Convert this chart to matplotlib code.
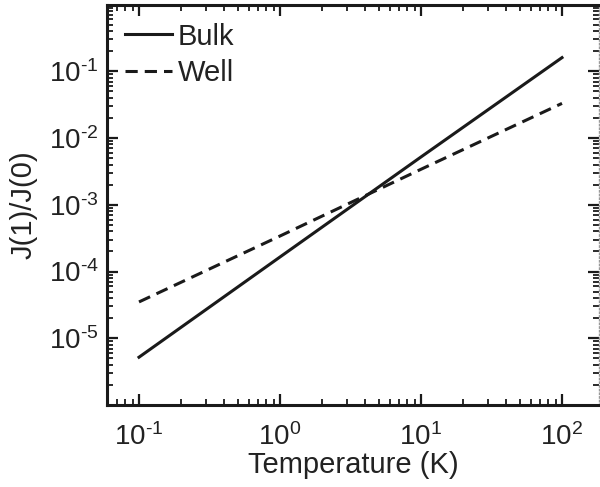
import matplotlib
matplotlib.use("Agg")
import matplotlib.pyplot as plt
import numpy as np
from matplotlib.ticker import LogLocator, NullFormatter

plt.rcParams['font.family'] = ['Liberation Sans', 'DejaVu Sans']
plt.rcParams['mathtext.fontset'] = 'custom'
plt.rcParams['mathtext.rm'] = 'Liberation Sans'
plt.rcParams['mathtext.it'] = 'Liberation Sans:italic'
plt.rcParams['mathtext.default'] = 'regular'

# Data
temperature = [0.1, 1.0, 10.0, 100.0]
bulk = [5.2e-6, 1.65e-4, 5.2e-3, 0.16]
well = [3.5e-5, 3.4e-4, 3.4e-3, 0.033]
series_labels = ["Bulk", "Well"]
xtick_vals = [0.1, 1, 10, 100]
xtick_labels = [r'$10^{\text{-}1}$', r'$10^{0}$', r'$10^{1}$', r'$10^{2}$']
ytick_vals = [1e-5, 1e-4, 1e-3, 1e-2, 1e-1]
ytick_labels = [r'$10^{\text{-}5}$', r'$10^{\text{-}4}$', r'$10^{\text{-}3}$',
                r'$10^{\text{-}2}$', r'$10^{\text{-}1}$']

fig = plt.figure(figsize=(6.0, 4.87), dpi=100)
ax = fig.add_axes([107/600, 1 - 405/487, 492/600, (405 - 4.5)/487])

ax.plot(temperature, bulk, color='#1a1a1a', lw=2.2, ls='-', label=series_labels[0])
ax.plot(temperature, well, color='#1a1a1a', lw=2.2, ls=(0, (4.0, 2.3)), label=series_labels[1])

ax.set_xscale('log')
ax.set_yscale('log')

ax.xaxis.set_minor_locator(LogLocator(base=10, subs=np.arange(2, 10), numticks=20))
ax.yaxis.set_minor_locator(LogLocator(base=10, subs=np.arange(2, 10), numticks=20))
ax.xaxis.set_minor_formatter(NullFormatter())
ax.yaxis.set_minor_formatter(NullFormatter())
ax.set_xticks(xtick_vals)
ax.set_yticks(ytick_vals)
ax.set_xticklabels(xtick_labels)
ax.set_yticklabels(ytick_labels)
ax.set_ylim(1e-6, 1.0)
ax.set_xlim(10**(-1 - 32/141), 10**(2 + 37/141))

ax.tick_params(which='both', direction='in', top=True, right=True, colors='#1a1a1a',
               labelsize=20, labelcolor='#222222')
ax.tick_params(which='major', length=8, width=1.6)
ax.tick_params(which='minor', length=4, width=1.3)
ax.tick_params(axis='x', which='major', pad=13)
ax.tick_params(axis='y', which='major', pad=6)

for side in ['left', 'bottom', 'top']:
    ax.spines[side].set_linewidth(2.2)
    ax.spines[side].set_color('#1a1a1a')
ax.spines['right'].set_linewidth(1.0)
ax.spines['right'].set_color('#999999')
ax.spines['right'].set_linestyle(':')

ax.set_xlabel('Temperature (K)', fontsize=21, color='#222222', labelpad=0)
ax.set_ylabel('J(1)/J(0)', fontsize=21, color='#222222', labelpad=8)

leg = ax.legend(loc='upper left', bbox_to_anchor=(18/492, 0.955), frameon=False,
                fontsize=21, handlelength=1.62, handletextpad=0.2,
                borderaxespad=0.0, borderpad=0.0, labelspacing=0.3)
for t in leg.get_texts():
    t.set_color('#222222')

fig.savefig('out.png', dpi=100)
